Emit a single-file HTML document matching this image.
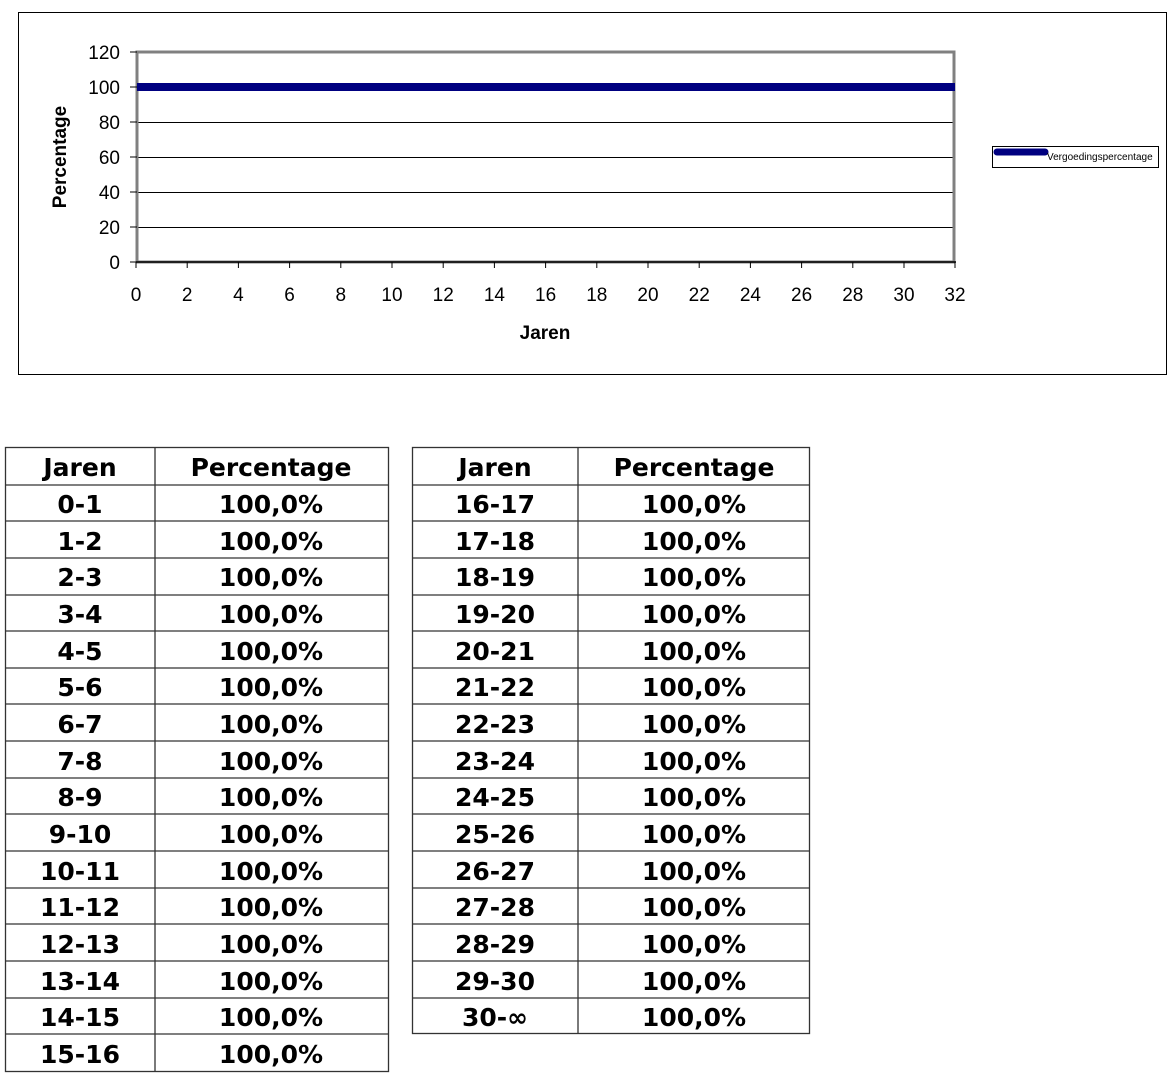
<!DOCTYPE html><html><head><style>body{margin:0;background:#fff}svg{display:block}</style></head><body>
<svg width="1175" height="1077" xmlns="http://www.w3.org/2000/svg">
<rect x="18.5" y="12.5" width="1148" height="362" fill="#fff" stroke="#000" stroke-width="1"/>
<g stroke="#000" stroke-width="1" shape-rendering="crispEdges">
<line x1="136" y1="122.5" x2="955" y2="122.5"/><line x1="136" y1="157.5" x2="955" y2="157.5"/>
<line x1="136" y1="192.5" x2="955" y2="192.5"/><line x1="136" y1="227.5" x2="955" y2="227.5"/>
</g>
<rect x="137" y="52" width="817" height="210" fill="none" stroke="#808080" stroke-width="3"/>
<line x1="136" y1="262" x2="956" y2="262" stroke="#000" stroke-width="1.5"/>
<line x1="137" y1="87" x2="955" y2="87" stroke="#000080" stroke-width="8"/>
<g stroke="#000" stroke-width="1">
<line x1="130" y1="52" x2="137" y2="52"/><line x1="130" y1="87" x2="137" y2="87"/><line x1="130" y1="122" x2="137" y2="122"/><line x1="130" y1="157" x2="137" y2="157"/><line x1="130" y1="192" x2="137" y2="192"/><line x1="130" y1="227" x2="137" y2="227"/><line x1="130" y1="262" x2="137" y2="262"/>
</g>
<g font-family="Liberation Sans, sans-serif" font-size="19" text-anchor="end" fill="#000">
<text x="120" y="59">120</text><text x="120" y="94">100</text><text x="120" y="129">80</text><text x="120" y="164">60</text><text x="120" y="199">40</text><text x="120" y="234">20</text><text x="120" y="269">0</text>
</g>
<g stroke="#000" stroke-width="1">
<line x1="136" y1="262" x2="136" y2="268"/><line x1="187.2" y1="262" x2="187.2" y2="268"/><line x1="238.4" y1="262" x2="238.4" y2="268"/><line x1="289.6" y1="262" x2="289.6" y2="268"/><line x1="340.8" y1="262" x2="340.8" y2="268"/><line x1="392" y1="262" x2="392" y2="268"/><line x1="443.2" y1="262" x2="443.2" y2="268"/><line x1="494.4" y1="262" x2="494.4" y2="268"/><line x1="545.6" y1="262" x2="545.6" y2="268"/><line x1="596.8" y1="262" x2="596.8" y2="268"/><line x1="648" y1="262" x2="648" y2="268"/><line x1="699.2" y1="262" x2="699.2" y2="268"/><line x1="750.4" y1="262" x2="750.4" y2="268"/><line x1="801.6" y1="262" x2="801.6" y2="268"/><line x1="852.8" y1="262" x2="852.8" y2="268"/><line x1="904" y1="262" x2="904" y2="268"/><line x1="955" y1="262" x2="955" y2="268"/>
</g>
<g font-family="Liberation Sans, sans-serif" font-size="19" text-anchor="middle" fill="#000">
<text x="136" y="301">0</text><text x="187.2" y="301">2</text><text x="238.4" y="301">4</text><text x="289.6" y="301">6</text><text x="340.8" y="301">8</text><text x="392" y="301">10</text><text x="443.2" y="301">12</text><text x="494.4" y="301">14</text><text x="545.6" y="301">16</text><text x="596.8" y="301">18</text><text x="648" y="301">20</text><text x="699.2" y="301">22</text><text x="750.4" y="301">24</text><text x="801.6" y="301">26</text><text x="852.8" y="301">28</text><text x="904" y="301">30</text><text x="955" y="301">32</text>
<text x="545" y="339" font-weight="bold">Jaren</text>
<text transform="translate(66,157) rotate(-90)" font-weight="bold">Percentage</text>
</g>
<rect x="992.5" y="146.5" width="166" height="21" fill="#fff" stroke="#000"/>
<line x1="997" y1="152" x2="1045" y2="152" stroke="#000080" stroke-width="7" stroke-linecap="round"/>
<text x="1047" y="160" font-family="Liberation Sans, sans-serif" font-size="10" fill="#000">Vergoedingspercentage</text>

<g font-family="DejaVu Sans, Verdana, sans-serif" font-weight="bold" font-size="25" text-anchor="middle" fill="#000">
<text x="80" y="476">Jaren</text><text x="271" y="476">Percentage</text>
<text x="80" y="513">0-1</text><text x="80" y="550">1-2</text><text x="80" y="586">2-3</text><text x="80" y="623">3-4</text><text x="80" y="660">4-5</text><text x="80" y="696">5-6</text><text x="80" y="733">6-7</text><text x="80" y="770">7-8</text><text x="80" y="806">8-9</text><text x="80" y="843">9-10</text><text x="80" y="880">10-11</text><text x="80" y="916">11-12</text><text x="80" y="953">12-13</text><text x="80" y="990">13-14</text><text x="80" y="1026">14-15</text><text x="80" y="1063">15-16</text>
<text x="271" y="513">100,0%</text><text x="271" y="550">100,0%</text><text x="271" y="586">100,0%</text><text x="271" y="623">100,0%</text><text x="271" y="660">100,0%</text><text x="271" y="696">100,0%</text><text x="271" y="733">100,0%</text><text x="271" y="770">100,0%</text><text x="271" y="806">100,0%</text><text x="271" y="843">100,0%</text><text x="271" y="880">100,0%</text><text x="271" y="916">100,0%</text><text x="271" y="953">100,0%</text><text x="271" y="990">100,0%</text><text x="271" y="1026">100,0%</text><text x="271" y="1063">100,0%</text>
<text x="495" y="476">Jaren</text><text x="694" y="476">Percentage</text>
<text x="495" y="513">16-17</text><text x="495" y="550">17-18</text><text x="495" y="586">18-19</text><text x="495" y="623">19-20</text><text x="495" y="660">20-21</text><text x="495" y="696">21-22</text><text x="495" y="733">22-23</text><text x="495" y="770">23-24</text><text x="495" y="806">24-25</text><text x="495" y="843">25-26</text><text x="495" y="880">26-27</text><text x="495" y="916">27-28</text><text x="495" y="953">28-29</text><text x="495" y="990">29-30</text><text x="495" y="1026">30-∞</text>
<text x="694" y="513">100,0%</text><text x="694" y="550">100,0%</text><text x="694" y="586">100,0%</text><text x="694" y="623">100,0%</text><text x="694" y="660">100,0%</text><text x="694" y="696">100,0%</text><text x="694" y="733">100,0%</text><text x="694" y="770">100,0%</text><text x="694" y="806">100,0%</text><text x="694" y="843">100,0%</text><text x="694" y="880">100,0%</text><text x="694" y="916">100,0%</text><text x="694" y="953">100,0%</text><text x="694" y="990">100,0%</text><text x="694" y="1026">100,0%</text>
</g>
<g stroke="#333" stroke-width="1.3" fill="none">
<rect x="5.5" y="447.5" width="383" height="624"/>
<line x1="155" y1="447" x2="155" y2="1071"/>
<line x1="5" y1="485" x2="388" y2="485"/><line x1="5" y1="521" x2="388" y2="521"/><line x1="5" y1="558" x2="388" y2="558"/><line x1="5" y1="595" x2="388" y2="595"/><line x1="5" y1="631" x2="388" y2="631"/><line x1="5" y1="668" x2="388" y2="668"/><line x1="5" y1="704" x2="388" y2="704"/><line x1="5" y1="741" x2="388" y2="741"/><line x1="5" y1="778" x2="388" y2="778"/><line x1="5" y1="814" x2="388" y2="814"/><line x1="5" y1="851" x2="388" y2="851"/><line x1="5" y1="888" x2="388" y2="888"/><line x1="5" y1="924" x2="388" y2="924"/><line x1="5" y1="961" x2="388" y2="961"/><line x1="5" y1="998" x2="388" y2="998"/><line x1="5" y1="1034" x2="388" y2="1034"/>
<rect x="412.5" y="447.5" width="397" height="586"/>
<line x1="578" y1="447" x2="578" y2="1034"/>
<line x1="412" y1="485" x2="810" y2="485"/><line x1="412" y1="521" x2="810" y2="521"/><line x1="412" y1="558" x2="810" y2="558"/><line x1="412" y1="595" x2="810" y2="595"/><line x1="412" y1="631" x2="810" y2="631"/><line x1="412" y1="668" x2="810" y2="668"/><line x1="412" y1="704" x2="810" y2="704"/><line x1="412" y1="741" x2="810" y2="741"/><line x1="412" y1="778" x2="810" y2="778"/><line x1="412" y1="814" x2="810" y2="814"/><line x1="412" y1="851" x2="810" y2="851"/><line x1="412" y1="888" x2="810" y2="888"/><line x1="412" y1="924" x2="810" y2="924"/><line x1="412" y1="961" x2="810" y2="961"/><line x1="412" y1="998" x2="810" y2="998"/>
</g>
</svg>
</body></html>
